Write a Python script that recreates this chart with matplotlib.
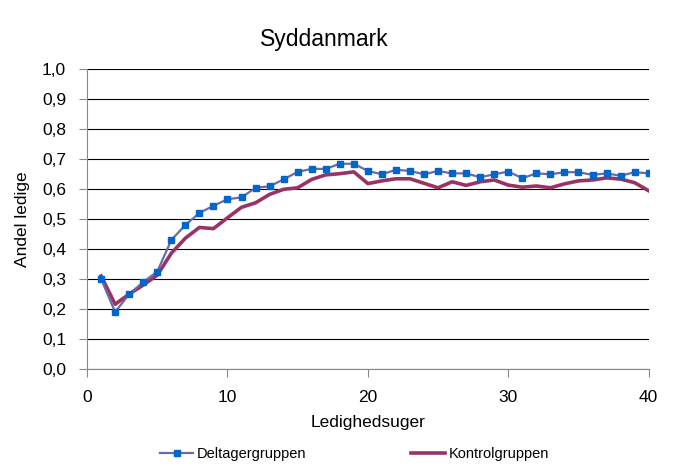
import numpy as np
import matplotlib
matplotlib.use('Agg')
import matplotlib.pyplot as plt

plt.rcParams['font.family'] = ['Liberation Sans', 'DejaVu Sans']

weeks = np.arange(1, 41)
deltager = [0.30, 0.19, 0.25, 0.29, 0.325, 0.43, 0.48, 0.52, 0.544, 0.566,
            0.572, 0.604, 0.609, 0.632, 0.657, 0.667, 0.667, 0.684, 0.684, 0.66,
            0.649, 0.664, 0.66, 0.649, 0.66, 0.652, 0.652, 0.639, 0.649, 0.658,
            0.636, 0.652, 0.649, 0.656, 0.656, 0.647, 0.652, 0.644, 0.656, 0.652]
kontrol = [0.31, 0.216, 0.25, 0.28, 0.313, 0.386, 0.436, 0.472, 0.468, 0.504,
           0.539, 0.554, 0.582, 0.599, 0.604, 0.632, 0.647, 0.651, 0.657, 0.618,
           0.627, 0.634, 0.634, 0.619, 0.604, 0.624, 0.612, 0.624, 0.63, 0.613,
           0.606, 0.61, 0.604, 0.617, 0.627, 0.63, 0.637, 0.633, 0.621, 0.594]

x_ticks = [0, 10, 20, 30, 40]
y_ticks = np.round(np.arange(0, 1.01, 0.1), 1)
y_labels = [('%.1f' % v).replace('.', ',') for v in y_ticks]

fig = plt.figure(figsize=(6.75, 4.72), dpi=100)
ax = fig.add_axes([0.129, 0.218, 0.832, 0.636])

ax.plot(weeks, deltager, color='#6a6aaa', lw=1.6, marker='s', ms=5,
        mfc='#0066cc', mec='#0066cc', label='Deltagergruppen', zorder=3)
ax.plot(weeks, kontrol, color='#993366', lw=2.6, label='Kontrolgruppen', zorder=2)

ax.set_xlim(0, 40)
ax.set_ylim(0, 1.0)
ax.set_xticks(x_ticks)
ax.set_yticks(y_ticks)
ax.set_yticklabels(y_labels)
ax.grid(axis='y', color='black', lw=0.8)
ax.set_axisbelow(True)

for s in ['top', 'right']:
    ax.spines[s].set_visible(False)
for s in ['left', 'bottom']:
    ax.spines[s].set_color('#888888')
ax.tick_params(axis='both', colors='#888888', labelcolor='black', labelsize=12.5,
               length=6, direction='out')
ax.tick_params(axis='y', pad=9)
ax.tick_params(axis='x', pad=9)

ax.set_xlabel('Ledighedsuger', fontsize=12.5, labelpad=7)
ax.set_ylabel('Andel ledige', fontsize=12.5, labelpad=9)
fig.suptitle('Syddanmark', x=0.48, y=0.94, fontsize=16.5)

fig.legend(loc='lower center', bbox_to_anchor=(0.525, -0.005), ncol=2, frameon=False,
           fontsize=10.5, handlelength=2.3, handletextpad=0.25, columnspacing=7.2)

fig.savefig('out.png', dpi=100)
